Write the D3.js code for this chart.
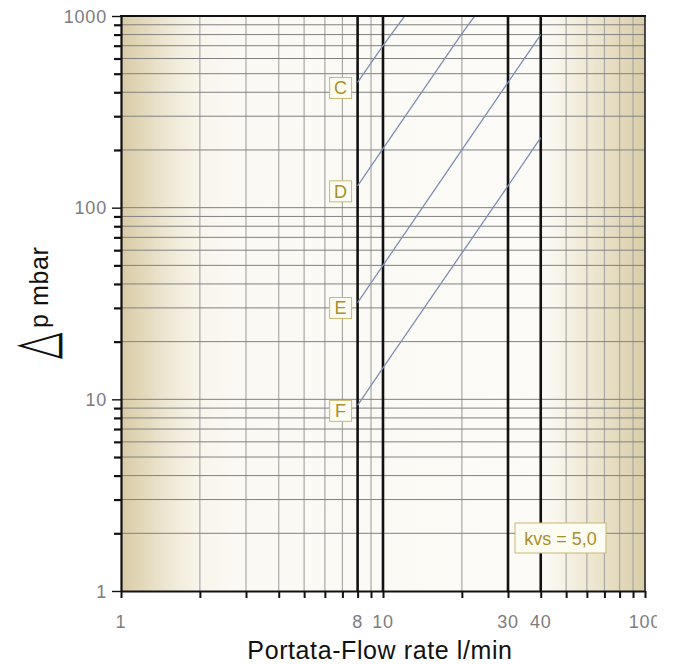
<!DOCTYPE html>
<html>
<head>
<meta charset="utf-8">
<script src="https://cdn.jsdelivr.net/npm/d3@7"></script>
<style>
  html, body { margin: 0; padding: 0; background: #ffffff; }
  svg { display: block; }
</style>
</head>
<body>
<svg id="chart" width="680" height="664"></svg>
<script>
// ---- data ----
const xTickLabels = [1, 8, 10, 30, 40, 100];
const yTickLabels = [1, 10, 100, 1000];
const boldFlows = [8, 10, 30, 40];
const seriesNames = ["C", "D", "E", "F"];
const flowC = [8, 10, 12.1];
const dpC = [450, 700, 1000];
const flowD = [8, 10, 20, 22.4];
const dpD = [130, 203, 810, 1000];
const flowE = [8, 10, 20, 30, 40];
const dpE = [32, 50, 200, 450, 800];
const flowF = [8, 10, 20, 30, 40];
const dpF = [9.3, 14.6, 58, 130, 232];
const kvsLabel = "kvs = 5,0";
const xTitle = "Portata-Flow rate l/min";
const yTitleSymbol = "\u25B3";
const yTitle = "p mbar";

const series = [
  { name: seriesNames[0], flow: flowC, dp: dpC },
  { name: seriesNames[1], flow: flowD, dp: dpD },
  { name: seriesNames[2], flow: flowE, dp: dpE },
  { name: seriesNames[3], flow: flowF, dp: dpF }
];

// ---- layout ----
const L = 121, R = 645, T = 16, B = 591;
const x = d3.scaleLog().domain([1, 100]).range([L, R]);
const y = d3.scaleLog().domain([1, 1000]).range([B, T]);

const svg = d3.select("#chart");
const defs = svg.append("defs");
const grad = defs.append("linearGradient").attr("id", "bg")
  .attr("x1", "0%").attr("x2", "100%").attr("y1", "0%").attr("y2", "0%");
[
  [0, "#d8cba6"], [0.05, "#e4dbbf"], [0.10, "#f0ead8"], [0.15, "#f8f5ec"],
  [0.22, "#fbf9f3"], [0.80, "#fcfbf7"], [0.84, "#f7f3e8"], [0.90, "#ede6d0"],
  [0.96, "#e1d7b9"], [1, "#d9cda9"]
].forEach(([o, c]) => grad.append("stop").attr("offset", o).attr("stop-color", c));

defs.append("clipPath").attr("id", "plotclip")
  .append("rect").attr("x", L).attr("y", T).attr("width", R - L).attr("height", B - T);
defs.append("clipPath").attr("id", "pageclip")
  .append("rect").attr("x", 0).attr("y", 0).attr("width", 657).attr("height", 664);

svg.append("rect").attr("x", L).attr("y", T).attr("width", R - L).attr("height", B - T)
  .attr("fill", "url(#bg)");

// minor tick values
const xMinor = [];
[1, 10].forEach(d => { for (let k = 1; k <= 9; k++) xMinor.push(d * k); });
xMinor.push(100);
const yMinor = [];
[1, 10, 100].forEach(d => { for (let k = 1; k <= 9; k++) yMinor.push(d * k); });
yMinor.push(1000);

const grid = svg.append("g");
grid.selectAll("line.vg").data(xMinor.filter(v => v > 1 && v < 100 && !boldFlows.includes(v)))
  .enter().append("line")
  .attr("x1", d => x(d)).attr("x2", d => x(d)).attr("y1", T).attr("y2", B)
  .attr("stroke", "#a9a9a6").attr("stroke-width", 1.2);
grid.selectAll("line.hg").data(yMinor.filter(v => v > 1 && v < 1000))
  .enter().append("line")
  .attr("x1", L).attr("x2", R).attr("y1", d => y(d)).attr("y2", d => y(d))
  .attr("stroke", "#808080").attr("stroke-width", 1);
grid.selectAll("line.bv").data(boldFlows).enter().append("line")
  .attr("x1", d => x(d)).attr("x2", d => x(d)).attr("y1", T).attr("y2", B)
  .attr("stroke", "#111").attr("stroke-width", 2.6);

// series lines
const line = d3.line().x(d => x(d[0])).y(d => y(d[1]));
svg.append("g").attr("clip-path", "url(#plotclip)")
  .selectAll("path").data(series).enter().append("path")
  .attr("d", s => line(s.flow.map((f, i) => [f, s.dp[i]])))
  .attr("fill", "none").attr("stroke", "#7d90b2").attr("stroke-width", 1.3);

// frame
svg.append("line").attr("x1", L - 1).attr("x2", R + 1).attr("y1", T).attr("y2", T)
  .attr("stroke", "#111").attr("stroke-width", 2.2);
svg.append("line").attr("x1", R).attr("x2", R).attr("y1", T).attr("y2", B)
  .attr("stroke", "#222").attr("stroke-width", 1.6);

// axes
const yAxis = d3.axisLeft(y).tickValues(yMinor).tickSize(0).tickFormat("");
const gy = svg.append("g").attr("transform", `translate(${L},0)`).call(yAxis);
gy.select(".domain").attr("stroke", "#111").attr("stroke-width", 2.2);
gy.selectAll(".tick").append("line")
  .attr("x1", d => yTickLabels.includes(d) ? -9 : -7).attr("x2", 0)
  .attr("stroke", "#111").attr("stroke-width", d => yTickLabels.includes(d) ? 1.4 : 2.2);
gy.selectAll(".tick").filter(d => yTickLabels.includes(d)).append("text")
  .attr("x", -14).attr("dy", "0.35em").attr("text-anchor", "end")
  .attr("fill", "#7d7d7d").attr("font-family", "Liberation Sans, Arial, sans-serif")
  .attr("font-size", 18).attr("letter-spacing", 0.8).text(d => d);

const xAxis = d3.axisBottom(x).tickValues(xMinor).tickSize(0).tickFormat("");
const gx = svg.append("g").attr("transform", `translate(0,${B})`).call(xAxis);
gx.select(".domain").attr("stroke", "#111").attr("stroke-width", 2.2);
gx.selectAll(".tick").append("line").attr("y1", 0).attr("y2", 7)
  .attr("stroke", "#111").attr("stroke-width", 2);
const xLabG = svg.append("g").attr("clip-path", "url(#pageclip)");
xLabG.selectAll("text").data(xTickLabels).enter().append("text")
  .attr("x", d => x(d)).attr("y", B + 37).attr("text-anchor", "middle")
  .attr("fill", "#7d7d7d").attr("font-family", "Liberation Sans, Arial, sans-serif")
  .attr("font-size", 18).attr("letter-spacing", 0.8).text(d => d);

// series labels
const lab = svg.append("g").selectAll("g").data(series).enter().append("g")
  .attr("transform", s => `translate(${x(s.flow[0]) - 17},${y(s.dp[0]) + 6})`);
lab.append("rect").attr("x", -11).attr("y", -11).attr("width", 22).attr("height", 21)
  .attr("fill", "#fdfcf2").attr("stroke", "#c8b872").attr("stroke-width", 1);
lab.append("text").attr("text-anchor", "middle").attr("dy", "0.36em").attr("y", -0.5)
  .attr("fill", "#a8902a").attr("font-family", "Liberation Sans, Arial, sans-serif")
  .attr("font-size", 18).text(s => s.name);

// kvs box
const kg = svg.append("g").attr("transform", `translate(${515},${523})`);
kg.append("rect").attr("width", 91).attr("height", 30)
  .attr("fill", "#fdfcf2").attr("stroke", "#c8b872").attr("stroke-width", 1);
kg.append("text").attr("x", 45.5).attr("y", 21.5).attr("text-anchor", "middle")
  .attr("fill", "#a8902a").attr("font-family", "Liberation Sans, Arial, sans-serif")
  .attr("font-size", 18).text(kvsLabel);

// titles
svg.append("text").attr("x", 380).attr("y", 659).attr("text-anchor", "middle")
  .attr("fill", "#111").attr("font-family", "Liberation Sans, Arial, sans-serif")
  .attr("font-size", 25).attr("letter-spacing", 0.6).text(xTitle);

svg.append("text").attr("transform", "translate(55,359) rotate(-90) scale(0.95,1.65)")
  .attr("fill", "#111").attr("font-family", "DejaVu Sans, sans-serif")
  .attr("font-size", 36).text(yTitleSymbol);
svg.append("text").attr("transform", "translate(48,328) rotate(-90)")
  .attr("fill", "#111").attr("font-family", "Liberation Sans, Arial, sans-serif")
  .attr("font-size", 25).attr("letter-spacing", 0.6).text(yTitle);
</script>
</body>
</html>
